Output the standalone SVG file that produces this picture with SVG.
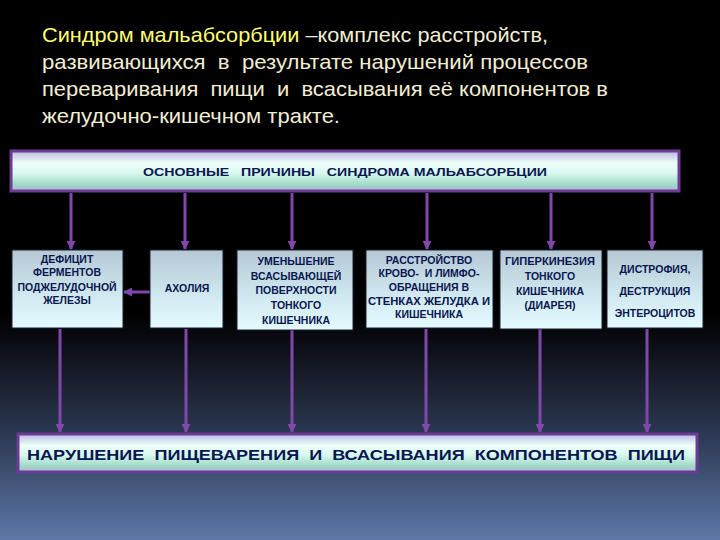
<svg xmlns="http://www.w3.org/2000/svg" width="720" height="540" viewBox="0 0 720 540">
<defs>
<linearGradient id="bg" x1="0" y1="0" x2="0" y2="1">
<stop offset="0" stop-color="#000000"/>
<stop offset="0.58" stop-color="#000000"/>
<stop offset="0.8" stop-color="#2b3650"/>
<stop offset="1" stop-color="#5d78a8"/>
</linearGradient>
<linearGradient id="bar" x1="0" y1="0" x2="0" y2="1">
<stop offset="0" stop-color="#b8b8e0"/>
<stop offset="0.3" stop-color="#eefffa"/>
<stop offset="0.55" stop-color="#d8f8f0"/>
<stop offset="0.85" stop-color="#9ed8c4"/>
<stop offset="1" stop-color="#b8b0e0"/>
</linearGradient>
<linearGradient id="node" x1="0" y1="0" x2="0" y2="1">
<stop offset="0" stop-color="#b4c8d4"/>
<stop offset="0.5" stop-color="#cce4ec"/>
<stop offset="1" stop-color="#e4fcff"/>
</linearGradient>
<marker id="ah" viewBox="0 0 10 10" refX="9" refY="5" markerWidth="3" markerHeight="3" orient="auto" markerUnits="strokeWidth">
<path d="M0,0 L10,5 L0,10 z" fill="#8048ad"/>
</marker>
<style>
text{white-space:pre}
.title{font-family:"Liberation Sans",Arial,sans-serif;font-size:21px;fill:#f2eed4}
.hl{fill:#ffff70}
.bar{fill:url(#bar);stroke:#6c3c94;stroke-width:3}
.nd{fill:url(#node);stroke:#1a2030;stroke-width:1}
.t{font-family:"Liberation Sans",Arial,sans-serif;font-weight:bold;font-size:10.5px;fill:#0a1650;text-anchor:middle}
.bt{font-family:"Liberation Sans",Arial,sans-serif;font-weight:bold;fill:#0a1650}
.c{stroke:#8048ad;stroke-width:3;fill:none;marker-end:url(#ah)}
</style>
</defs>
<rect x="0" y="0" width="720" height="540" fill="url(#bg)"/>

<g id="title">
<text class="title" x="42" y="42" textLength="506" lengthAdjust="spacingAndGlyphs"><tspan class="hl">Синдром мальабсорбции</tspan> –комплекс расстройств,</text>
<text class="title" x="42" y="69" textLength="546" lengthAdjust="spacingAndGlyphs">развивающихся  в  результате нарушений процессов</text>
<text class="title" x="42" y="96" textLength="566" lengthAdjust="spacingAndGlyphs">переваривания  пищи  и  всасывания её компонентов в</text>
<text class="title" x="42" y="123" textLength="298" lengthAdjust="spacingAndGlyphs">желудочно-кишечном тракте.</text>
</g>

<g id="connectors">
<line class="c" x1="71" y1="193" x2="71" y2="249"/>
<line class="c" x1="185" y1="193" x2="185" y2="249"/>
<line class="c" x1="292" y1="193" x2="292" y2="249"/>
<line class="c" x1="427" y1="193" x2="427" y2="249"/>
<line class="c" x1="551" y1="193" x2="551" y2="249"/>
<line class="c" x1="652" y1="193" x2="652" y2="249"/>
<line class="c" x1="150" y1="292" x2="124" y2="292"/>
<line class="c" x1="60" y1="329" x2="60" y2="432"/>
<line class="c" x1="186" y1="329" x2="186" y2="432"/>
<line class="c" x1="292" y1="330" x2="292" y2="432"/>
<line class="c" x1="426" y1="329" x2="426" y2="432"/>
<line class="c" x1="540" y1="329" x2="540" y2="432"/>
<line class="c" x1="647" y1="329" x2="647" y2="432"/>
</g>

<g id="top-box">
<rect class="bar" x="11" y="151" width="668" height="40"/>
<text class="bt" x="143" y="176" font-size="11.5" textLength="404" lengthAdjust="spacingAndGlyphs">ОСНОВНЫЕ   ПРИЧИНЫ   СИНДРОМА МАЛЬАБСОРБЦИИ</text>
</g>

<g id="n1">
<rect class="nd" x="12" y="250" width="111" height="78"/>
<text class="t" x="67" y="263">ДЕФИЦИТ</text>
<text class="t" x="67" y="276">ФЕРМЕНТОВ</text>
<text class="t" x="67" y="291">ПОДЖЕЛУДОЧНОЙ</text>
<text class="t" x="67" y="304">ЖЕЛЕЗЫ</text>
</g>

<g id="n2">
<rect class="nd" x="150" y="250" width="73" height="78"/>
<text class="t" x="187" y="292">АХОЛИЯ</text>
</g>

<g id="n3">
<rect class="nd" x="237" y="250" width="116" height="80"/>
<text class="t" x="296" y="265">УМЕНЬШЕНИЕ</text>
<text class="t" x="296" y="280">ВСАСЫВАЮЩЕЙ</text>
<text class="t" x="296" y="294">ПОВЕРХНОСТИ</text>
<text class="t" x="296" y="309">ТОНКОГО</text>
<text class="t" x="296" y="324">КИШЕЧНИКА</text>
</g>

<g id="n4">
<rect class="nd" x="366" y="250" width="127" height="78"/>
<text class="t" x="429" y="264">РАССТРОЙСТВО</text>
<text class="t" x="429" y="277">КРОВО-  И ЛИМФО-</text>
<text class="t" x="429" y="291">ОБРАЩЕНИЯ В</text>
<text class="t" x="429" y="305" textLength="122" lengthAdjust="spacingAndGlyphs">СТЕНКАХ ЖЕЛУДКА И</text>
<text class="t" x="429" y="318">КИШЕЧНИКА</text>
</g>

<g id="n5">
<rect class="nd" x="500" y="250" width="102" height="79"/>
<text class="t" x="550" y="265" textLength="90" lengthAdjust="spacingAndGlyphs">ГИПЕРКИНЕЗИЯ</text>
<text class="t" x="550" y="280">ТОНКОГО</text>
<text class="t" x="550" y="295">КИШЕЧНИКА</text>
<text class="t" x="550" y="309">(ДИАРЕЯ)</text>
</g>

<g id="n6">
<rect class="nd" x="607" y="250" width="96" height="78"/>
<text class="t" x="655" y="273">ДИСТРОФИЯ,</text>
<text class="t" x="655" y="295">ДЕСТРУКЦИЯ</text>
<text class="t" x="655" y="317">ЭНТЕРОЦИТОВ</text>
</g>

<g id="bottom-box">
<rect class="bar" x="18" y="434" width="679" height="38"/>
<text class="bt" x="27" y="460" font-size="15" textLength="658" lengthAdjust="spacingAndGlyphs">НАРУШЕНИЕ  ПИЩЕВАРЕНИЯ  И  ВСАСЫВАНИЯ  КОМПОНЕНТОВ  ПИЩИ</text>
</g>
</svg>
